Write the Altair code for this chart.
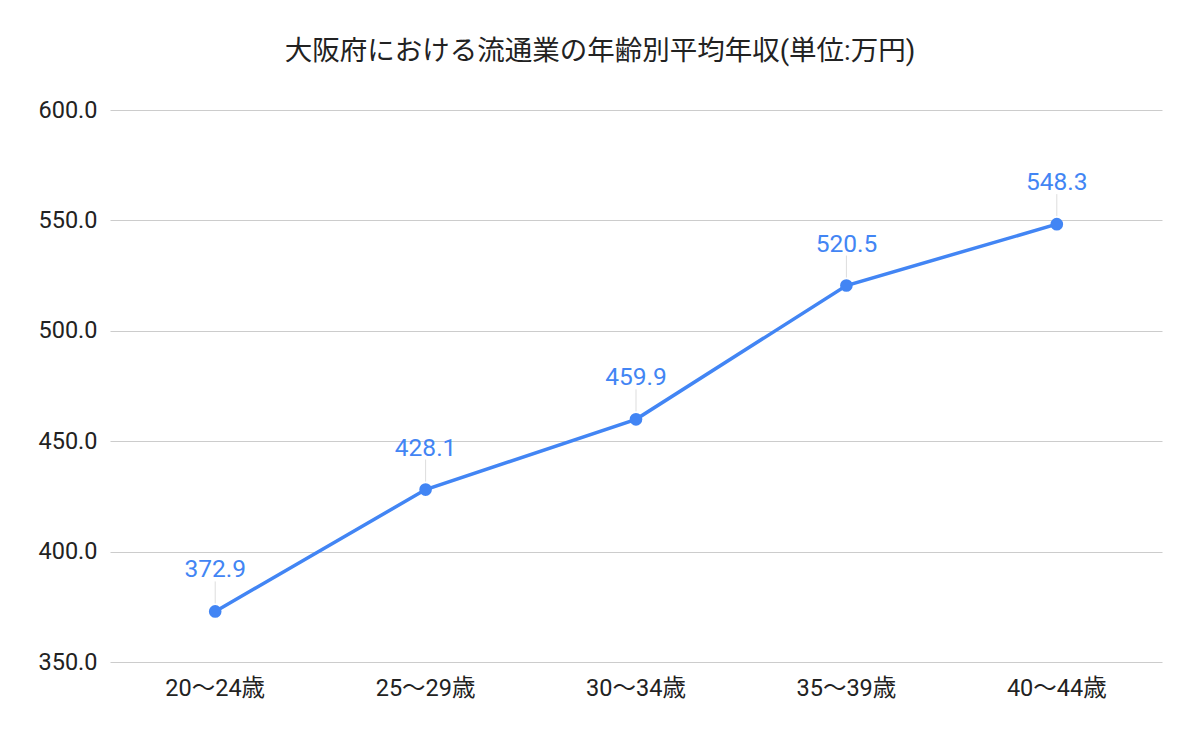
import altair as alt
import pandas as pd

ages = ["20～24歳", "25～29歳", "30～34歳", "35～39歳", "40～44歳"]
income = [372.9, 428.1, 459.9, 520.5, 548.3]
y_ticks = [350, 400, 450, 500, 550, 600]
title_text = "大阪府における流通業の年齢別平均年収(単位:万円)"

df = pd.DataFrame({"age": ages, "income": income})

FONT = "Roboto, 'Noto Sans CJK JP', sans-serif"
BLUE = "#4285F4"

x = alt.X("age:N", sort=ages, title=None,
          axis=alt.Axis(labelAngle=0, ticks=False, domain=False, grid=False,
                        labelFontSize=23.5, labelColor="#222222", labelFont=FONT,
                        labelPadding=14))
y = alt.Y("income:Q", title=None,
          scale=alt.Scale(domain=[350, 600], nice=False, zero=False),
          axis=alt.Axis(values=y_ticks, format=".1f", ticks=False, domain=False,
                        gridColor="#cccccc", gridWidth=1,
                        labelFontSize=23.5, labelColor="#222222", labelFont=FONT,
                        labelPadding=13))

base = alt.Chart(df).encode(x=x, y=y)

leader = base.mark_rule(color="#dddddd", strokeWidth=1, yOffset=-8, y2Offset=-30).encode(
    y2=alt.Y2("income:Q"))
line = base.mark_line(color=BLUE, strokeWidth=3.5)
pts = base.mark_circle(color=BLUE, size=160, opacity=1)
labels = base.mark_text(color=BLUE, fontSize=24.5, font=FONT, dy=-34,
                        baseline="alphabetic").encode(text=alt.Text("income:Q", format=".1f"))

chart = alt.layer(leader, line, pts, labels).properties(
    width=1052, height=552,
    background="white",
    title=alt.TitleParams(title_text, fontSize=27.5, font=FONT, fontWeight="normal",
                          color="#222222", anchor="middle", offset=33, dx=-36),
    autosize=alt.AutoSizeParams(type="none"),
    padding={"left": 102, "top": 102, "right": 30, "bottom": 60},
).configure_view(strokeWidth=0, stroke="transparent")

chart.save("out.html", embed_options={"renderer": "svg", "actions": False})
